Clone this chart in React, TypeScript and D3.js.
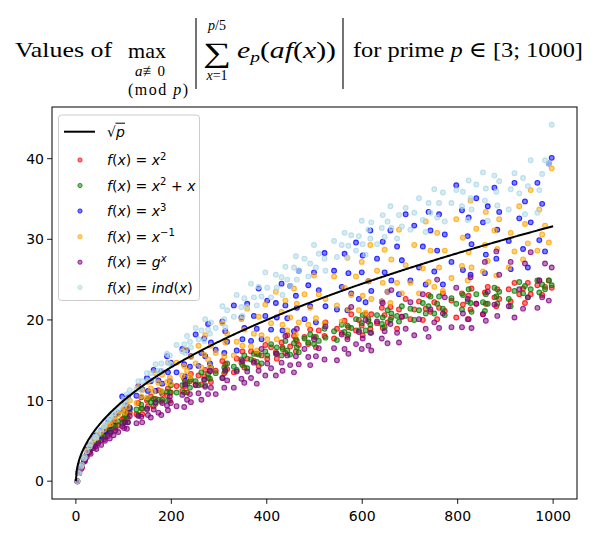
import React from "react";
import * as d3 from "d3";

const primes = [3,5,7,11,13,17,19,23,29,31,37,41,43,47,53,59,61,67,71,73,79,83,89,97,
101,103,107,109,113,127,131,137,139,149,151,157,163,167,173,179,181,191,193,197,199,
211,223,227,229,233,239,241,251,257,263,269,271,277,281,283,293,
307,311,313,317,331,337,347,349,353,359,367,373,379,383,389,397,
401,409,419,421,431,433,439,443,449,457,461,463,467,479,487,491,499,
503,509,521,523,541,547,557,563,569,571,577,587,593,599,
601,607,613,617,619,631,641,643,647,653,659,661,673,677,683,691,
701,709,719,727,733,739,743,751,757,761,769,773,787,797,
809,811,821,823,827,829,839,853,857,859,863,877,881,883,887,
907,911,919,929,937,941,947,953,967,971,977,983,991,997];

const valsSquare = [0,1,1,1.9,1.7,2.8,2.6,3.5,3.8,4.3,4.4,5.0,4.8,5.3,5.1,6.0,5.6,6.4,6.0,6.8,6.5,7.3,6.9,7.7,
7.8,7.3,8.6,7.8,8.5,8.3,9.7,9.0,8.3,10.0,9.3,10.5,9.3,10.2,11.3,9.9,10.8,10.6,11.5,10.0,11.0,
11.8,11.2,12.7,11.8,11.0,12.4,13.3,12.0,13.1,12.0,13.0,13.8,12.8,13.6,12.3,13.7,
14.9,13.4,14.5,13.9,13.5,15.2,14.7,16.1,14.1,15.2,16.1,14.9,15.8,14.3,15.6,16.9,
15.2,16.6,16.0,15.2,17.2,16.6,15.9,18.1,16.7,18.0,16.1,17.4,16.9,17.9,17.0,18.8,17.9,
16.6,18.7,18.0,19.7,17.7,18.9,18.4,19.9,17.9,19.1,20.7,18.7,20.0,19.3,
18.1,20.7,19.8,18.9,20.7,19.6,21.5,19.0,20.6,19.7,21.6,20.3,18.9,21.3,20.4,22.6,
20.1,21.3,22.3,20.0,21.4,23.1,21.0,22.2,20.1,21.5,23.3,21.1,22.4,20.3,
23.3,21.9,20.1,23.0,21.3,23.9,22.0,20.7,23.4,22.0,24.1,22.8,21.7,23.8,22.6,
23.8,22.3,24.6,23.2,23.9,22.1,24.6,23.2,24.3,24.9,23.1,24.1,24.9,24.0];

const valsSquarePlusX = [0,1,1,1.8,1.9,2.6,2.9,3.3,4.0,4.0,4.6,4.6,5.1,5.0,5.6,5.5,6.1,6.0,6.6,6.2,7.0,6.7,7.4,7.2,
7.4,8.2,8.0,7.3,8.9,8.9,8.2,9.5,9.0,8.9,10.2,9.8,10.2,9.6,10.1,11.1,10.1,11.1,10.0,11.0,11.9,
11.0,11.9,11.0,12.4,12.1,11.6,12.6,12.4,11.9,13.5,12.6,11.9,13.3,12.7,14.1,13.4,
12.8,14.1,13.6,14.6,14.2,13.8,15.1,14.4,15.6,14.0,15.1,15.8,14.8,15.7,14.6,16.1,
15.6,17.0,15.8,16.6,15.6,16.4,17.4,16.2,15.7,17.1,17.6,16.6,16.0,17.7,17.2,18.2,17.0,
17.9,17.4,18.9,17.8,18.6,17.5,19.4,18.5,19.3,18.2,19.0,20.1,18.7,19.6,
20.6,18.7,20.1,19.4,18.4,20.6,19.5,20.3,19.1,21.2,20.0,20.8,20.5,19.8,21.7,20.5,
21.4,20.0,21.2,22.1,20.8,21.7,22.9,20.8,22.0,22.9,21.4,20.6,22.7,22.0,
21.3,23.1,22.3,23.8,22.1,21.0,23.2,22.2,21.1,23.2,22.0,24.0,22.9,22.0,23.5,
22.6,21.7,23.6,24.7,23.3,24.2,22.8,23.8,24.9,23.4,24.4,23.8,24.9,24.3];

const valsCube = [0,1,1,2.0,1.9,2.9,3.0,3.9,4.5,4.4,5.3,5.2,5.7,5.5,6.3,6.6,6.2,7.3,6.9,7.6,7.4,8.2,8.5,10.5,
8.8,9.7,9.3,10.4,9.1,10.6,11.8,10.4,11.4,12.8,11.2,12.4,13.8,11.2,12.5,13.6,12.1,15.5,13.5,12.4,14.7,
13.5,16.4,14.5,13.0,16.2,14.2,15.5,18.2,14.3,15.9,17.7,15.5,19.5,14.6,17.2,16.3,
19.8,15.9,18.6,17.3,21.8,16.2,20.3,17.6,19.0,22.0,17.4,20.5,18.9,23.9,17.6,20.5,
22.4,18.8,22.1,20.3,24.5,18.7,21.8,20.2,24.2,18.6,23.0,21.5,26.1,20.1,24.3,21.7,25.9,
19.7,23.7,28.3,21.7,26.1,21.3,24.1,28.2,21.2,25.8,23.3,29.6,22.6,25.9,
28.0,22.2,24.8,31.1,23.6,27.6,22.3,29.7,25.9,23.5,31.1,24.9,29.1,23.2,27.4,33.1,
24.9,31.7,26.5,29.1,24.4,33.4,31.1,26.0,28.6,33.1,24.4,30.6,27.2,36.7,
33.6,26.2,30.4,32.7,25.6,29.4,35.1,32.1,25.8,28.1,34.1,36.4,27.6,31.2,33.4,
29.8,26.3,37.0,32.6,28.8,34.7,26.5,32.1,37.0,29.9,34.4,28.5,39.4,40.1];

const valsInverse = [0,1,1,1.9,2.0,2.9,2.8,3.8,4.3,4.6,5.0,5.4,5.2,5.8,6.1,6.4,6.8,7.0,7.4,7.1,7.9,7.6,8.3,8.7,
9.2,8.5,10.1,9.2,10.0,9.7,11.7,10.5,11.3,10.4,12.3,11.5,11.1,13.4,12.2,11.2,13.2,12.3,14.7,12.8,12.1,
14.7,13.1,14.3,16.3,13.7,13.0,15.4,14.6,16.8,14.1,15.7,18.1,15.1,14.2,16.8,15.9,
19.6,15.5,17.2,18.3,15.6,17.3,20.1,16.8,18.8,21.4,16.7,18.3,16.2,20.4,18.1,21.9,
17.6,19.6,23.5,17.6,21.0,19.4,22.4,18.7,20.3,23.9,18.2,22.0,19.7,23.2,19.4,21.5,25.5,
20.2,23.2,19.6,22.6,25.4,21.8,19.8,24.0,27.7,21.3,23.1,25.4,21.2,27.2,
23.0,20.9,24.8,29.3,22.6,26.1,22.3,24.6,28.7,23.5,22.1,27.5,24.6,31.2,23.3,26.8,
24.6,29.3,23.3,26.4,32.2,24.7,28.6,24.1,30.8,26.5,23.6,28.6,25.2,32.5,
26.7,30.2,24.9,28.4,34.8,26.5,31.3,26.0,29.3,33.4,27.3,31.1,25.5,28.8,32.5,
26.5,30.8,28.5,34.1,27.5,31.9,29.5,36.1,28.6,33.7,30.6,31.7,29.6,38.8];

const valsGenerator = [0,1,1,1.5,1.9,2.4,2.5,3.0,3.6,3.4,4.1,4.3,4.0,4.7,4.5,5.2,5.0,5.6,5.3,6.0,5.7,6.3,6.1,6.8,
6.6,7.3,6.5,7.3,8.1,7.2,8.1,8.0,7.3,9.0,8.2,7.9,8.9,9.8,8.5,8.2,9.7,9.4,8.8,10.5,9.7,
9.3,10.7,9.2,12.0,10.1,10.8,9.8,11.9,10.9,10.1,12.6,11.7,10.8,13.7,11.6,10.8,
12.8,11.6,13.8,12.5,11.6,13.6,12.7,14.9,12.2,13.6,12.8,14.7,12.1,13.7,16.4,13.1,
14.6,14.0,13.1,15.8,14.7,13.7,18.0,15.6,14.4,13.5,15.5,18.9,14.5,16.4,15.4,14.4,17.6,
15.5,16.5,15.1,19.2,16.5,15.0,18.2,16.4,17.6,15.8,21.6,17.0,18.5,16.4,
17.7,20.0,16.8,18.4,16.2,19.8,17.7,22.1,18.6,17.1,19.5,23.7,18.4,17.2,20.4,18.9,
22.2,18.1,20.1,23.2,18.9,17.9,21.3,19.7,25.0,19.0,20.8,22.8,19.1,24.0,
19.1,20.8,22.6,20.1,25.3,19.0,22.0,20.7,27.2,19.9,23.5,21.9,28.5,20.5,25.6,
21.7,27.2,20.3,23.8,21.4,27.0,22.8,28.4,21.5,24.9,22.8,27.0,22.4,26.5];

const valsIndex = [0,1,1,1.8,2.0,2.8,3.0,3.7,4.3,4.6,5.2,5.5,5.4,6.0,6.4,6.8,7.0,7.5,7.8,8.0,8.4,8.7,9.0,9.6,
10.1,9.6,10.8,10.2,11.3,11.4,12.4,11.3,12.4,13.4,12.5,13.4,12.6,14.5,13.7,14.6,13.6,15.8,14.7,15.6,14.5,
16.9,16.1,17.0,15.9,18.0,17.3,16.6,19.0,17.6,18.7,17.4,20.1,18.8,18.3,19.7,19.0,
21.7,20.1,19.1,21.2,20.4,23.1,21.6,20.5,22.7,21.6,24.5,22.8,21.8,24.1,22.9,25.9,
24.0,22.8,25.6,24.0,25.3,23.1,26.6,25.0,24.2,26.5,27.9,25.0,26.1,27.6,25.4,27.0,29.3,
26.5,28.2,27.6,26.1,29.8,27.8,29.3,30.8,27.7,29.2,30.5,28.6,30.4,32.3,
29.4,28.1,31.2,30.1,32.1,29.4,31.4,33.0,30.3,32.2,34.1,31.4,30.1,33.0,31.6,33.9,
31.2,33.3,35.1,32.4,30.9,34.5,33.3,36.2,32.7,34.5,35.8,32.2,34.5,36.1,
34.1,35.9,32.4,37.3,35.1,33.7,36.8,38.3,34.8,36.3,32.3,37.9,35.9,34.2,37.2,
33.7,36.2,38.2,35.7,37.6,33.1,36.6,39.8,33.3,36.1,38.1,39.8,39.4,44.2];

const xTicks = [0, 200, 400, 600, 800, 1000];
const yTicks = [0, 10, 20, 30, 40];
const curveRange = [0, 1000];

const seriesColors = ["red", "green", "blue", "orange", "purple", "lightblue"];
const seriesValues = [valsSquare, valsSquarePlusX, valsCube, valsInverse, valsGenerator, valsIndex];

const W = 600, H = 539;
const PL = 52, PR = 577, PT = 107, PB = 499;
const MATH = "'DejaVu Sans', sans-serif";
const SERIF = "'Liberation Serif', 'DejaVu Serif', serif";

function LegendLabel({ i }: { i: number }) {
  const it = { fontStyle: "italic" as const };
  const fx = (
    <>
      <tspan {...it}>f</tspan>(<tspan {...it}>x</tspan>){" = "}
    </>
  );
  const sup = (s: string, italic = false) => (
    <tspan dy={-5.5} fontSize={10} fontStyle={italic ? "italic" : "normal"}>{s}</tspan>
  );
  if (i === 0) return <>{fx}<tspan {...it}>x</tspan>{sup("2")}</>;
  if (i === 1) return <>{fx}<tspan {...it}>x</tspan>{sup("2")}<tspan dy={5.5}>{" + "}</tspan><tspan {...it}>x</tspan></>;
  if (i === 2) return <>{fx}<tspan {...it}>x</tspan>{sup("3")}</>;
  if (i === 3) return <>{fx}<tspan {...it}>x</tspan>{sup("\u22121")}</>;
  if (i === 4) return <>{fx}<tspan {...it}>g</tspan>{sup("x", true)}</>;
  return <>{fx}<tspan {...it}>ind</tspan>(<tspan {...it}>x</tspan>)</>;
}

export default function App() {
  const curveX = d3.range(curveRange[0], curveRange[1] + 1, 2);
  const xMin = Math.min(curveRange[0], d3.min(primes)!);
  const xMax = Math.max(curveRange[1], d3.max(primes)!);
  const xPad = (xMax - xMin) * 0.05;
  const allY = seriesValues.flat();
  const yMin = Math.min(0, d3.min(allY)!);
  const yMax = d3.max(allY)!;
  const yPad = (yMax - yMin) * 0.05;

  const x = d3.scaleLinear().domain([xMin - xPad, xMax + xPad]).range([PL, PR]);
  const y = d3.scaleLinear().domain([yMin - yPad, yMax + yPad]).range([PB, PT]);

  const line = d3.line<number>().x((d) => x(d)).y((d) => y(Math.sqrt(d)));

  const legendRows = [160, 185.5, 211, 236.7, 262.2, 287.5];
  const R = 2.4;

  return (
    <svg width={W} height={H} style={{ position: "absolute", left: 0, top: 0, background: "white" }}>
      <rect x={0} y={0} width={W} height={H} fill="white" />
      {/* Title */}
      <g fontFamily={SERIF} fill="black">
        <text x={15} y={57} fontSize={22} textLength={97} lengthAdjust="spacingAndGlyphs">Values of</text>
        <text x={147} y={58} fontSize={22} textAnchor="middle" textLength={38} lengthAdjust="spacingAndGlyphs">max</text>
        <text x={150} y={76} fontSize={15} textAnchor="middle"><tspan fontStyle="italic">a</tspan>≢0</text>
        <text x={158} y={95} fontSize={16} textAnchor="middle" textLength={60} lengthAdjust="spacing">(mod <tspan fontStyle="italic">p</tspan>)</text>
        <line x1={196} x2={196} y1={18} y2={89} stroke="black" strokeWidth={1.1} />
        <text x={203} y={62} fontSize={28} textLength={28} lengthAdjust="spacingAndGlyphs">∑</text>
        <text x={217} y={30} fontSize={14} textAnchor="middle"><tspan fontStyle="italic">p</tspan>/5</text>
        <text x={217} y={80} fontSize={14} textAnchor="middle"><tspan fontStyle="italic">x</tspan>=1</text>
        <text x={237} y={58} fontSize={23} textLength={99} lengthAdjust="spacingAndGlyphs">
          <tspan fontStyle="italic">e</tspan>
          <tspan fontSize={15} dy={4} fontStyle="italic">p</tspan>
          <tspan dy={-4}>(</tspan>
          <tspan fontStyle="italic">af</tspan>
          <tspan>(</tspan>
          <tspan fontStyle="italic">x</tspan>
          <tspan>))</tspan>
        </text>
        <line x1={343} x2={343} y1={18} y2={89} stroke="black" strokeWidth={1.1} />
        <text x={353} y={57} fontSize={22} textLength={230} lengthAdjust="spacingAndGlyphs">
          for prime <tspan fontStyle="italic">p</tspan> ∈ [3; 1000]
        </text>
      </g>

      {/* scatter */}
      <g>
        {seriesValues.map((vals, si) => (
          <g key={si}>
            {vals.map((v, i) => (
              <circle key={i} cx={x(primes[i])} cy={y(v)} r={R}
                fill={seriesColors[si]} fillOpacity={0.5}
                stroke={seriesColors[si]} strokeOpacity={0.8} strokeWidth={1.1} />
            ))}
          </g>
        ))}
      </g>

      {/* sqrt curve */}
      <path d={line(curveX) || ""} fill="none" stroke="black" strokeWidth={2} />

      {/* axes frame */}
      <rect x={PL} y={PT} width={PR - PL} height={PB - PT} fill="none" stroke="black" strokeWidth={1} />

      {/* ticks */}
      <g fontFamily={MATH} fontSize={14} fill="black">
        {xTicks.map((t) => (
          <g key={t}>
            <line x1={x(t)} x2={x(t)} y1={PB} y2={PB + 4.9} stroke="black" strokeWidth={0.9} />
            <text x={x(t)} y={521} textAnchor="middle">{t}</text>
          </g>
        ))}
        {yTicks.map((t) => (
          <g key={t}>
            <line x1={PL - 4.9} x2={PL} y1={y(t)} y2={y(t)} stroke="black" strokeWidth={0.9} />
            <text x={PL - 8} y={y(t) + 5} textAnchor="end">{t}</text>
          </g>
        ))}
      </g>

      {/* legend */}
      <g>
        <rect x={58.5} y={115} width={141} height={185.5} rx={3} fill="white" fillOpacity={0.8} stroke="#cccccc" strokeWidth={1} />
        <line x1={64} x2={95} y1={131.7} y2={131.7} stroke="black" strokeWidth={2} />
        <g fontFamily={MATH} fontSize={14} fill="black">
          <text x={107} y={137}>√<tspan fontStyle="italic">p</tspan></text>
          <line x1={115.5} x2={125} y1={123.2} y2={123.2} stroke="black" strokeWidth={1} />
          {seriesColors.map((c, i) => (
            <g key={c}>
              <circle cx={80} cy={legendRows[i]} r={2.1} fill={c} fillOpacity={0.5} stroke={c} strokeOpacity={0.8} strokeWidth={1} />
              <text x={107} y={legendRows[i] + 5}><LegendLabel i={i} /></text>
            </g>
          ))}
        </g>
      </g>
    </svg>
  );
}
